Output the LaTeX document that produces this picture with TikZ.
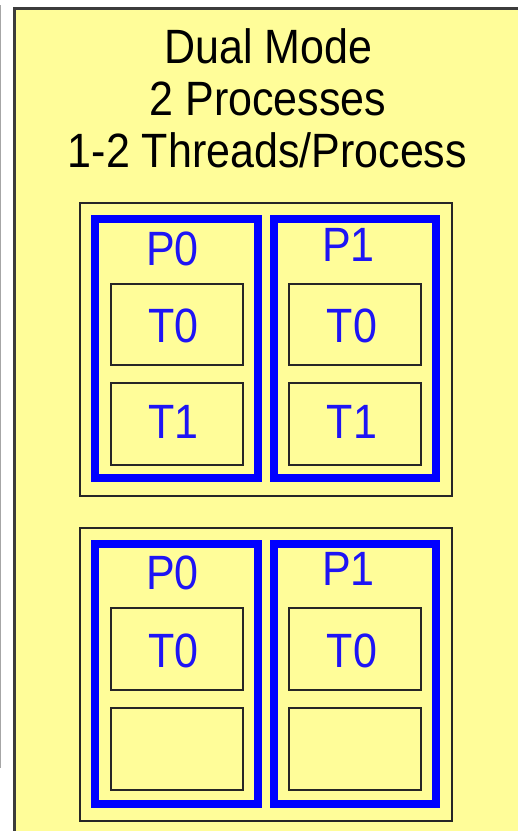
\documentclass[tikz,border=0pt]{standalone}
\usepackage{fontspec}
\setmainfont{Liberation Sans}
\definecolor{paleyellow}{RGB}{255,253,153}
\definecolor{framegray}{RGB}{60,60,60}
\definecolor{pblue}{RGB}{0,0,255}
\definecolor{textblue}{RGB}{30,20,245}
\tikzset{
  frame/.style={rectangle, draw=framegray, line width=3pt, fill=paleyellow, inner sep=0pt},
  groupbox/.style={rectangle, draw=black!85, line width=1.5pt, inner sep=0pt, minimum width=372pt, minimum height=293pt},
  procbox/.style={rectangle, draw=pblue, line width=8pt, inner sep=0pt},
  threadbox/.style={rectangle, draw=black!85, line width=1.5pt, inner sep=0pt, minimum width=132pt},
  titletext/.style={anchor=base, inner sep=0pt, font=\fontsize{43}{52}\selectfont, text=black},
  lbl/.style={anchor=base, inner sep=0pt, font=\fontsize{43}{52}\selectfont, text=textblue}
}
\newcommand{\stretchtxt}[1]{\scalebox{1}[1.12]{#1}}
\begin{document}
\begin{tikzpicture}[x=1pt,y=-1pt]
\useasboundingbox (0,0) rectangle (518,831);
\clip (0,0) rectangle (518,831);
\draw[gray!70, line width=1.5pt] (0.6,5) -- (0.6,768);
\node[frame, minimum width=540pt, minimum height=850pt] (outer) at (284.5,433.5) {};
\node[titletext] (t1) at (268.5,63) {\stretchtxt{Dual Mode}};
\node[titletext] (t2) at (268,115) {\stretchtxt{2 Processes}};
\node[titletext] (t3) at (267.5,167) {\stretchtxt{1-2 Threads/Process}};
% group 1
\node[groupbox] (g1) at (266,349.5) {};
\node[procbox, minimum width=163pt, minimum height=259pt] (g1p0) at (176.5,348.5) {};
\node[procbox, minimum width=162pt, minimum height=259pt] (g1p1) at (355,348.5) {};
\node[threadbox, minimum height=81pt] (g1p0t0) at (177,324.5) {};
\node[threadbox, minimum height=82pt] (g1p0t1) at (177,424) {};
\node[threadbox, minimum height=81pt] (g1p1t0) at (355,324.5) {};
\node[threadbox, minimum height=82pt] (g1p1t1) at (355,424) {};
\node[lbl] (l1) at (172.5,265) {\stretchtxt{P0}};
\node[lbl] (l2) at (348.5,261) {\stretchtxt{P1}};
\node[lbl] (l3) at (173.5,342) {\stretchtxt{T0}};
\node[lbl] (l4) at (173.5,438) {\stretchtxt{T1}};
\node[lbl] (l5) at (352,342) {\stretchtxt{T0}};
\node[lbl] (l6) at (352,438) {\stretchtxt{T1}};
% group 2
\node[groupbox] (g2) at (266,674.5) {};
\node[procbox, minimum width=163pt, minimum height=260pt] (g2p0) at (176.5,674) {};
\node[procbox, minimum width=162pt, minimum height=260pt] (g2p1) at (355,674) {};
\node[threadbox, minimum height=82pt] (g2p0t0) at (177,649) {};
\node[threadbox, minimum height=82pt] (g2p0t1) at (177,749) {};
\node[threadbox, minimum height=82pt] (g2p1t0) at (355,649) {};
\node[threadbox, minimum height=82pt] (g2p1t1) at (355,749) {};
\node[lbl] (l7) at (172.5,589) {\stretchtxt{P0}};
\node[lbl] (l8) at (348.5,585) {\stretchtxt{P1}};
\node[lbl] (l9) at (173.5,667) {\stretchtxt{T0}};
\node[lbl] (l10) at (352,667) {\stretchtxt{T0}};
\end{tikzpicture}
\end{document}
